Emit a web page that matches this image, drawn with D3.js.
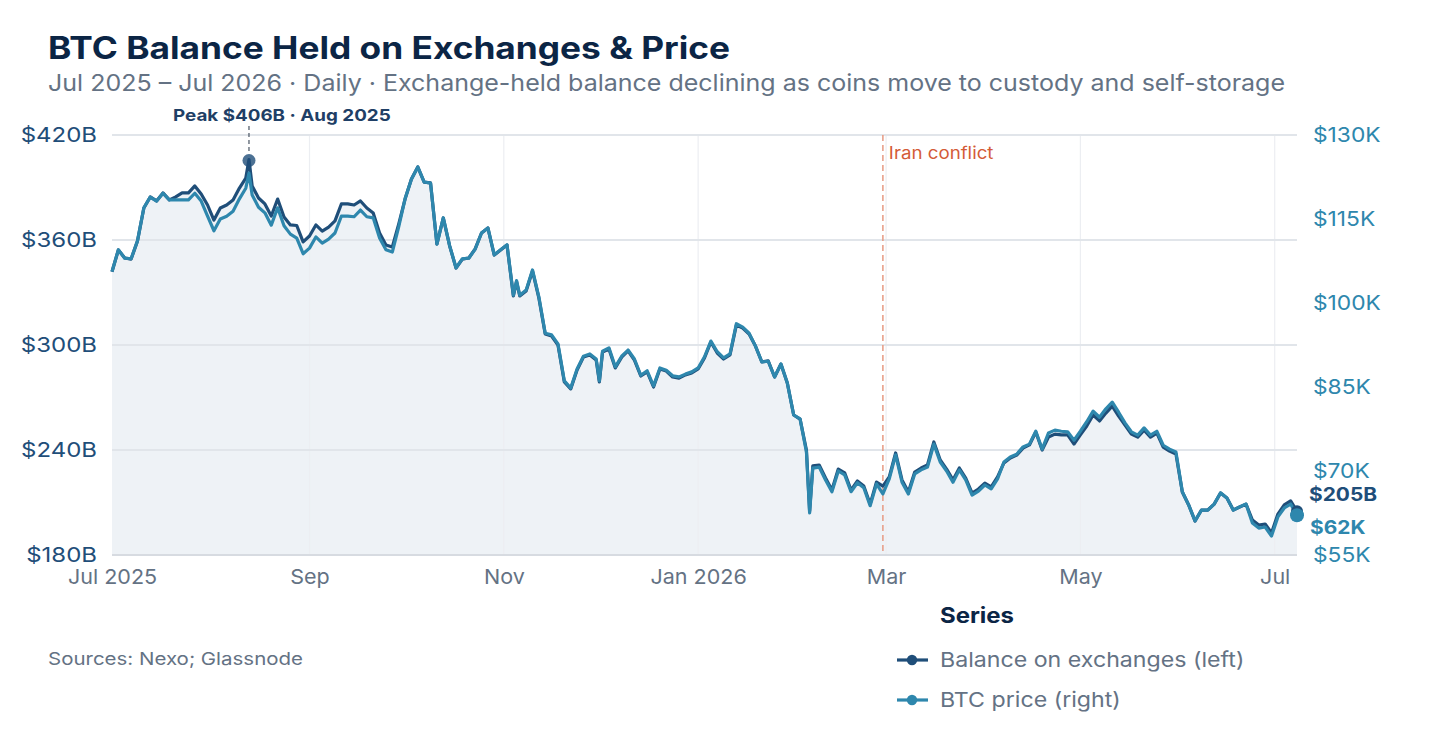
<!DOCTYPE html>
<html>
<head>
<meta charset="utf-8">
<script src="https://cdn.jsdelivr.net/npm/d3@7"></script>
<style>
  html, body { margin: 0; padding: 0; background: #ffffff; }
  svg { display: block; font-family: Inter, "Noto Sans", sans-serif; }
</style>
</head>
<body>
<svg id="chart" width="1440" height="744"></svg>
<script>
// ---------------- DATA ----------------
const dates = [
  "2025-07-01","2025-07-03","2025-07-05","2025-07-07","2025-07-09","2025-07-11","2025-07-13","2025-07-15","2025-07-17","2025-07-19","2025-07-21","2025-07-23","2025-07-25","2025-07-27","2025-07-29","2025-07-31",
  "2025-08-02","2025-08-04","2025-08-06","2025-08-08","2025-08-10","2025-08-12","2025-08-13","2025-08-14","2025-08-16","2025-08-18","2025-08-20","2025-08-22","2025-08-24","2025-08-26","2025-08-28","2025-08-30",
  "2025-09-01","2025-09-03","2025-09-05","2025-09-07","2025-09-09","2025-09-11","2025-09-13","2025-09-15","2025-09-17","2025-09-19","2025-09-21","2025-09-23","2025-09-25","2025-09-27","2025-09-29",
  "2025-10-01","2025-10-03","2025-10-05","2025-10-07","2025-10-09","2025-10-11","2025-10-13","2025-10-15","2025-10-17","2025-10-19","2025-10-21","2025-10-23","2025-10-25","2025-10-27","2025-10-29","2025-10-31",
  "2025-11-02","2025-11-04","2025-11-05","2025-11-06","2025-11-08","2025-11-10","2025-11-12","2025-11-14","2025-11-16","2025-11-18","2025-11-20","2025-11-22","2025-11-24","2025-11-26","2025-11-28","2025-11-30",
  "2025-12-01","2025-12-02","2025-12-04","2025-12-06","2025-12-08","2025-12-10","2025-12-12","2025-12-14","2025-12-16","2025-12-18","2025-12-20","2025-12-22","2025-12-24","2025-12-26","2025-12-28","2025-12-30",
  "2026-01-01","2026-01-03","2026-01-05","2026-01-07","2026-01-09","2026-01-11","2026-01-13","2026-01-15","2026-01-17","2026-01-19","2026-01-21","2026-01-23","2026-01-25","2026-01-27","2026-01-29","2026-01-31",
  "2026-02-02","2026-02-04","2026-02-05","2026-02-06","2026-02-08","2026-02-10","2026-02-12","2026-02-14","2026-02-16","2026-02-18","2026-02-20","2026-02-22","2026-02-24","2026-02-26","2026-02-28",
  "2026-03-02","2026-03-04","2026-03-06","2026-03-08","2026-03-10","2026-03-12","2026-03-14","2026-03-16","2026-03-18","2026-03-20","2026-03-22","2026-03-24","2026-03-26","2026-03-28","2026-03-30",
  "2026-04-01","2026-04-03","2026-04-05","2026-04-07","2026-04-09","2026-04-11","2026-04-13","2026-04-15","2026-04-17","2026-04-19","2026-04-21","2026-04-23","2026-04-25","2026-04-27","2026-04-29",
  "2026-05-01","2026-05-03","2026-05-05","2026-05-07","2026-05-09","2026-05-11","2026-05-13","2026-05-15","2026-05-17","2026-05-19","2026-05-21","2026-05-23","2026-05-25","2026-05-27","2026-05-29","2026-05-31",
  "2026-06-02","2026-06-04","2026-06-06","2026-06-08","2026-06-10","2026-06-12","2026-06-14","2026-06-16","2026-06-18","2026-06-20","2026-06-22","2026-06-24","2026-06-26","2026-06-28","2026-06-30",
  "2026-07-02","2026-07-04","2026-07-06","2026-07-08"
];

// Balance on exchanges, $B (left axis)
const balance = [
  341.9,354.3,349.7,349.1,359.4,378.3,384.6,382.3,386.9,382.9,384.6,386.9,386.9,390.9,386.3,380.0,
  371.4,378.3,380.0,382.9,389.7,395.4,406.0,390.9,384.0,380.6,373.7,383.4,373.1,368.6,368.3,358.9,
  362.3,368.6,365.1,367.4,370.9,380.6,380.6,380.0,382.3,378.3,375.4,364.0,357.1,356.0,369.1,
  383.4,394.9,401.7,393.1,392.6,357.7,372.6,356.6,344.0,349.1,349.7,354.9,364.0,366.9,351.4,354.3,
  357.1,328.0,336.2,328.0,330.9,342.3,326.9,306.3,305.1,300.0,278.9,274.9,285.7,293.1,294.3,291.4,
  278.9,296.0,297.7,286.9,293.1,296.6,291.4,282.3,284.6,276.0,286.3,285.1,281.7,281.1,282.9,284.0,
  286.3,292.6,301.7,295.4,292.0,294.3,311.4,309.7,306.3,299.4,290.3,290.9,281.7,289.1,278.3,260.0,
  257.7,240.0,205.1,230.9,231.4,224.0,217.1,229.1,226.9,217.1,222.3,219.4,209.1,221.7,219.4,
  224.6,238.3,222.9,216.0,227.4,229.7,231.4,244.6,234.3,229.1,222.9,229.7,224.0,215.4,217.7,
  221.1,218.9,224.6,232.6,235.4,237.1,241.1,242.9,250.3,240.0,247.4,249.1,248.6,248.6,243.4,
  248.6,253.7,260.0,256.6,261.1,265.1,259.4,254.3,249.1,247.4,251.4,247.4,249.7,241.7,239.4,237.7,
  216.0,208.6,199.4,205.7,205.7,209.1,215.4,212.6,205.7,207.4,209.1,200.0,197.1,197.7,192.6,
  203.4,208.6,210.9,205.0
];

// BTC price, $K (right axis)
const price = [
  105.6,109.5,108.0,107.9,111.1,117.0,118.9,118.2,119.6,118.4,118.4,118.4,118.4,119.6,118.2,115.5,
  112.9,115.0,115.5,116.4,118.6,120.5,123.2,119.3,117.1,116.1,113.9,117.0,113.8,112.3,111.6,108.8,
  109.8,111.8,110.7,111.4,112.5,115.5,115.5,115.4,116.6,115.4,115.2,111.6,109.5,109.1,113.6,
  118.6,122.1,124.3,121.6,121.4,110.5,115.2,110.2,106.3,107.9,108.0,109.6,112.5,113.4,108.6,109.5,
  110.4,101.4,104.0,101.4,102.3,105.9,101.1,94.6,94.3,92.7,86.1,84.8,88.2,90.5,90.9,90.0,
  86.1,91.4,92.0,88.6,90.5,91.6,90.0,87.1,87.9,85.2,88.4,88.0,87.0,86.8,87.3,87.7,
  88.4,90.4,93.2,91.3,90.2,90.9,96.3,95.7,94.6,92.3,89.5,89.6,86.8,89.1,85.7,80.0,
  79.3,73.4,62.5,70.5,70.7,68.4,66.3,70.0,69.3,66.3,67.9,67.0,63.8,67.7,65.9,
  68.6,72.9,68.0,65.9,69.5,70.2,70.7,74.8,71.6,70.0,68.0,70.2,68.4,65.7,66.4,
  67.5,66.8,68.6,71.6,72.5,73.0,74.3,74.8,77.1,73.9,76.8,77.3,77.1,77.0,75.5,
  77.1,78.8,80.7,79.6,81.1,82.3,80.5,78.6,77.0,76.4,77.7,76.4,77.1,74.6,73.9,73.4,
  66.3,63.9,61.1,63.0,63.0,64.1,66.1,65.2,63.0,63.6,64.1,60.7,59.8,60.0,58.4,
  61.8,63.4,64.1,62.1
];

const leftTicks = [180, 240, 300, 360, 420];
const rightTicks = [55, 70, 85, 100, 115, 130];
const monthTicks = ["2025-07-01","2025-09-01","2025-11-01","2026-01-01","2026-03-01","2026-05-01","2026-07-01"];
const monthLabels = ["Jul 2025","Sep","Nov","Jan 2026","Mar","May","Jul"];
const peakDate = "2025-08-13";
const peakValue = 406;
const eventDate = "2026-02-28";
const eventLabel = "Iran conflict";
const seriesNames = ["Balance on exchanges (left)", "BTC price (right)"];

// ---------------- LAYOUT ----------------
const C = {
  navy: "#1f4e79", teal: "#2e87ad", title: "#0b2545", gray: "#647284",
  grid: "#e1e5ea", vgrid: "#eceef2", area: "#eef2f6", event: "#e79a83", eventText: "#d45b37"
};
const parse = d3.utcParse("%Y-%m-%d");
const data = dates.map((d, i) => ({ date: parse(d), bal: balance[i], px: price[i] }));

const svg = d3.select("#chart");
const m = { left: 112, right: 1297, top: 135, bottom: 555 };

const x = d3.scaleUtc().domain([parse("2025-07-01"), parse("2026-07-08")]).range([m.left, m.right]);
const yL = d3.scaleLinear().domain([180, 420]).range([m.bottom, m.top]);
const yR = d3.scaleLinear().domain([55, 130]).range([m.bottom, m.top]);

// widen text horizontally to mimic the reference's wider typeface
function widen(sel, factor) {
  sel.each(function () {
    const w = this.getComputedTextLength();
    d3.select(this).attr("textLength", w * factor).attr("lengthAdjust", "spacingAndGlyphs");
  });
}
function fitTo(sel, width) {
  sel.attr("textLength", width).attr("lengthAdjust", "spacingAndGlyphs");
}

// Title
fitTo(svg.append("text").attr("x", 48).attr("y", 59)
  .attr("font-size", 31).attr("font-weight", 700).attr("fill", C.title)
  .text("BTC Balance Held on Exchanges & Price"), 682);
fitTo(svg.append("text").attr("x", 48).attr("y", 91)
  .attr("font-size", 23).attr("fill", C.gray)
  .text("Jul 2025 – Jul 2026 · Daily · Exchange-held balance declining as coins move to custody and self-storage"), 1237);

// Area
const area = d3.area().x(d => x(d.date)).y0(m.bottom).y1(d => yL(d.bal));
svg.append("path").datum(data).attr("d", area).attr("fill", C.area);

// Vertical grid
const monthDates = monthTicks.map(parse);
svg.append("g").selectAll("line").data(monthDates.slice(1)).join("line")
  .attr("x1", d => x(d)).attr("x2", d => x(d))
  .attr("y1", m.top).attr("y2", m.bottom)
  .attr("stroke", C.vgrid).attr("stroke-width", 1.2);

// Horizontal grid (left ticks)
svg.append("g").selectAll("line").data(leftTicks).join("line")
  .attr("x1", m.left).attr("x2", m.right)
  .attr("y1", d => yL(d)).attr("y2", d => yL(d))
  .attr("stroke", d => d === 180 ? "#d7dbe1" : C.grid).attr("stroke-width", 1.8);

// Left axis
const leftAxis = d3.axisLeft(yL).tickValues(leftTicks).tickSize(0).tickPadding(15).tickFormat(d => "$" + d + "B");
const gL = svg.append("g").attr("transform", `translate(${m.left},0)`).call(leftAxis);
gL.select(".domain").remove();
gL.selectAll("text").attr("font-size", 20.5).attr("fill", C.navy).attr("font-family", "Inter, sans-serif");
widen(gL.selectAll("text"), 1.17);

// Right axis
const rightAxis = d3.axisRight(yR).tickValues(rightTicks).tickSize(0).tickPadding(16).tickFormat(d => "$" + d + "K");
const gR = svg.append("g").attr("transform", `translate(${m.right},0)`).call(rightAxis);
gR.select(".domain").remove();
gR.selectAll("text").attr("font-size", 20.5).attr("fill", C.teal).attr("font-family", "Inter, sans-serif");
widen(gR.selectAll("text"), 1.11);

// Bottom axis
const bottomAxis = d3.axisBottom(x).tickValues(monthDates).tickSize(0).tickPadding(14)
  .tickFormat((d, i) => monthLabels[i]);
const gB = svg.append("g").attr("transform", `translate(0,${m.bottom})`).call(bottomAxis);
gB.select(".domain").remove();
gB.selectAll("text").attr("font-size", 20.5).attr("fill", C.gray).attr("font-family", "Inter, sans-serif");
widen(gB.selectAll("text"), 1.05);

// Event line
const ex = x(parse(eventDate));
svg.append("line").attr("x1", ex).attr("x2", ex).attr("y1", m.top).attr("y2", m.bottom)
  .attr("stroke", C.event).attr("stroke-width", 1.5).attr("stroke-dasharray", "6,4");
widen(svg.append("text").attr("x", ex + 6).attr("y", 159).attr("font-size", 17)
  .attr("fill", C.eventText).text(eventLabel), 1.1);

// Lines
const lineBal = d3.line().x(d => x(d.date)).y(d => yL(d.bal));
const linePx = d3.line().x(d => x(d.date)).y(d => yR(d.px));
svg.append("path").datum(data).attr("d", lineBal).attr("fill", "none")
  .attr("stroke", C.navy).attr("stroke-width", 3.2).attr("stroke-linejoin", "round");
svg.append("path").datum(data).attr("d", linePx).attr("fill", "none")
  .attr("stroke", C.teal).attr("stroke-width", 3.2).attr("stroke-linejoin", "round");

// Peak annotation
const px0 = x(parse(peakDate)), py0 = yL(peakValue);
svg.append("line").attr("x1", px0).attr("x2", px0).attr("y1", 126).attr("y2", py0 - 6)
  .attr("stroke", "#4a5563").attr("stroke-width", 1.2).attr("stroke-dasharray", "4,3");
svg.append("circle").attr("cx", px0).attr("cy", py0 + 1).attr("r", 6.5)
  .attr("fill", C.navy).attr("fill-opacity", 0.8);
widen(svg.append("text").attr("x", px0 - 76).attr("y", 121).attr("font-size", 16.5).attr("font-weight", 700)
  .attr("fill", "#1f3f66").text(`Peak $${peakValue}B · Aug 2025`), 1.14);

// End markers & labels
const last = data[data.length - 1];
const lx = x(last.date);
svg.append("circle").attr("cx", lx).attr("cy", yL(last.bal)).attr("r", 6).attr("fill", C.navy);
svg.append("circle").attr("cx", lx).attr("cy", yR(last.px)).attr("r", 7).attr("fill", C.teal);
widen(svg.append("text").attr("x", 1309).attr("y", yL(last.bal) - 17).attr("dy", "0.35em")
  .attr("font-size", 19).attr("font-weight", 700).attr("fill", C.navy)
  .text("$" + Math.round(last.bal) + "B"), 1.1);
widen(svg.append("text").attr("x", 1310).attr("y", yR(last.px) + 12).attr("dy", "0.35em")
  .attr("font-size", 19).attr("font-weight", 700).attr("fill", C.teal)
  .text("$" + Math.round(last.px) + "K"), 1.1);

// Sources
widen(svg.append("text").attr("x", 48).attr("y", 665).attr("font-size", 17.5).attr("fill", C.gray)
  .text("Sources: Nexo; Glassnode"), 1.17);

// Legend
const lg = svg.append("g");
widen(lg.append("text").attr("x", 940).attr("y", 623).attr("font-size", 21).attr("font-weight", 700)
  .attr("fill", C.title).text("Series"), 1.14);
[C.navy, C.teal].forEach((col, i) => {
  const yy = 660 + i * 40;
  lg.append("line").attr("x1", 897).attr("x2", 928).attr("y1", yy).attr("y2", yy)
    .attr("stroke", col).attr("stroke-width", 3.2);
  lg.append("circle").attr("cx", 912).attr("cy", yy).attr("r", 5.2).attr("fill", col);
  widen(lg.append("text").attr("x", 940).attr("y", yy).attr("dy", "0.35em").attr("font-size", 20.5)
    .attr("fill", C.gray).text(seriesNames[i]), 1.13);
});
</script>
</body>
</html>
